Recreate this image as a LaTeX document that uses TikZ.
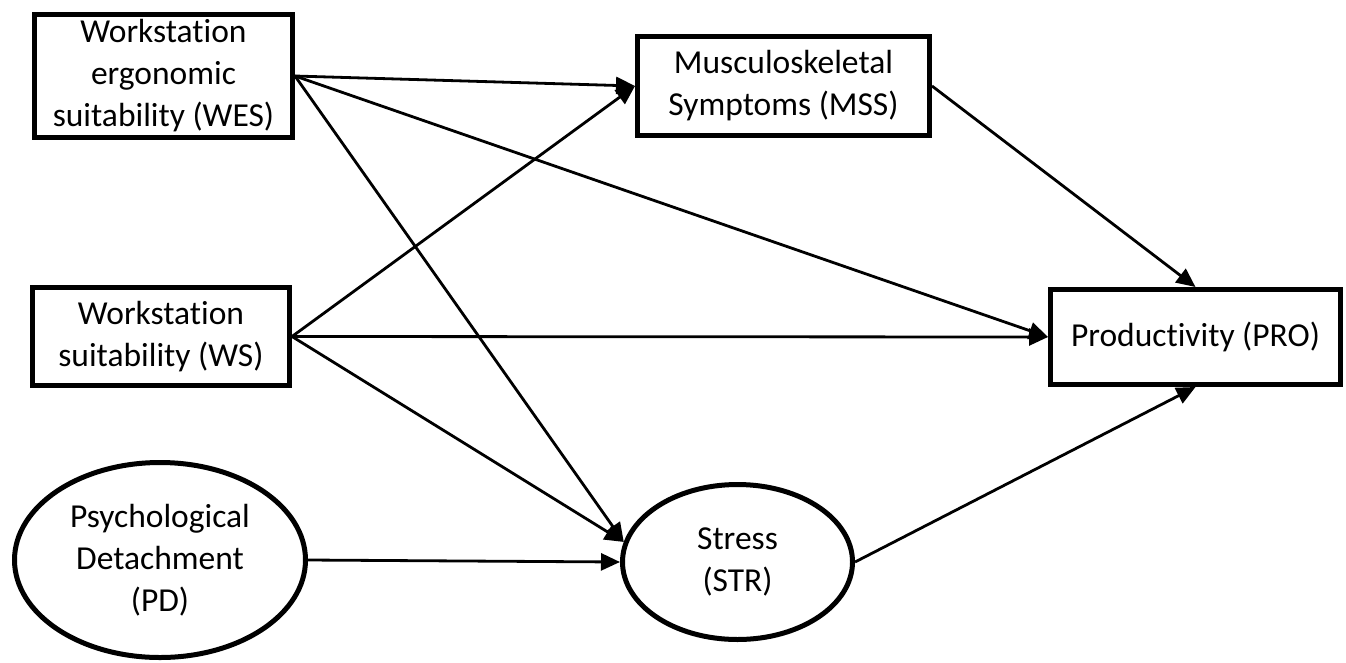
\documentclass[tikz,border=0pt]{standalone}
\usepackage{fontspec}
\setmainfont[Ligatures={NoCommon}]{Carlito}
\usetikzlibrary{arrows.meta,shapes.geometric}
\begin{document}
\begin{tikzpicture}[x=1pt,y=-1pt,
  lbl/.style={font=\fontsize{33.5}{42}\selectfont, align=center, inner sep=0pt},
  boxnode/.style={lbl, draw, line width=5pt, rectangle},
  ellnode/.style={lbl, draw, line width=5pt, ellipse},
  conn/.style={line width=2.8pt, -{Triangle[length=19pt,width=17pt]}}]
\useasboundingbox (0,0) rectangle (1346,662);
\node[boxnode, minimum width=258pt, minimum height=123pt] (WES) at (163.5,76) {Workstation\\ergonomic\\suitability (WES)};
\node[boxnode, minimum width=292pt, minimum height=99pt] (MSS) at (783.5,86) {Musculoskeletal\\Symptoms (MSS)};
\node[boxnode, minimum width=257pt, minimum height=98pt] (WS) at (161,336.5) {Workstation\\suitability (WS)};
\node[boxnode, minimum width=290pt, minimum height=95pt] (PRO) at (1195.5,337) {Productivity (PRO)};
\node[ellnode, minimum width=291pt, minimum height=195pt] (PD) at (160,560) {Psychological\\Detachment\\(PD)};
\node[ellnode, minimum width=230pt, minimum height=155pt] (STR) at (737.5,562) {Stress\\(STR)};
\draw[conn] (WES.east) -- (MSS.west);
\draw[conn] (WES.east) -- (PRO.west);
\draw[conn] (WES.east) -- (STR.170);
\draw[conn] (WS.east) -- (MSS.west);
\draw[conn] (WS.east) -- (PRO.west);
\draw[conn] (WS.east) -- (STR.170);
\draw[conn] (MSS.east) -- (PRO.north);
\draw[conn] (STR.east) -- (PRO.south);
\draw[conn] (PD.east) -- (STR.west);
\end{tikzpicture}
\end{document}
